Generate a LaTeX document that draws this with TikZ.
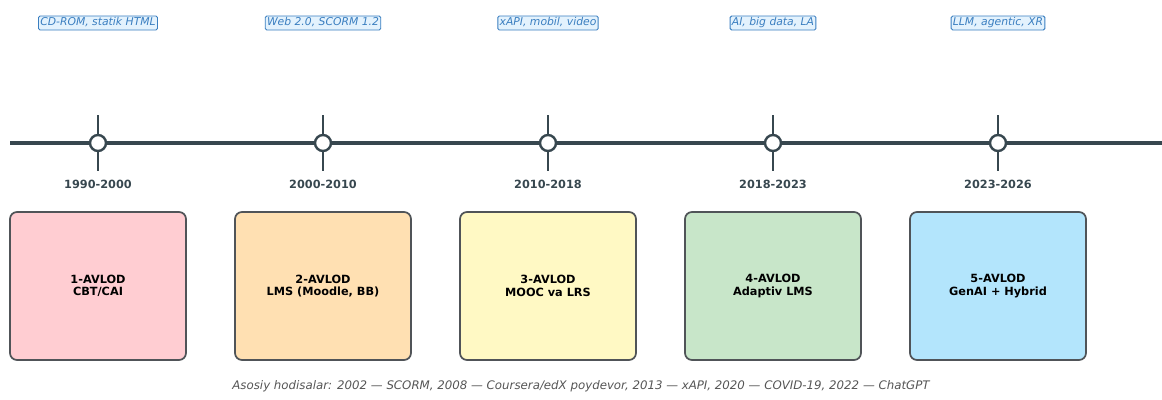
\documentclass[tikz,border=0pt]{standalone}
\usepackage{fontspec}
\setmainfont{DejaVu Sans}
\definecolor{linec}{HTML}{37474F}
\definecolor{tagblue}{HTML}{3A7EC0}
\definecolor{tagfill}{HTML}{E3F2FD}
\definecolor{c1}{HTML}{FFCDD2}
\definecolor{c2}{HTML}{FFE0B2}
\definecolor{c3}{HTML}{FFF9C4}
\definecolor{c4}{HTML}{C8E6C9}
\definecolor{c5}{HTML}{B3E5FC}
\definecolor{boxborder}{HTML}{505458}
\definecolor{captc}{HTML}{555555}
\begin{document}
\begin{tikzpicture}[x=1pt,y=-1pt,
  tl/.style={line width=3.2pt,draw=linec},
  tick/.style={line width=2.6pt,draw=linec},
  dot/.style={circle,draw=linec,line width=2.4pt,fill=white,minimum size=16pt,inner sep=0pt},
  yearlbl/.style={font=\fontsize{11.3}{13}\selectfont\bfseries,text=linec},
  tag/.style={draw=tagblue,fill=tagfill,line width=0.9pt,rounded corners=1.5pt,inner sep=1.8pt,text height=8pt,text depth=2.4pt,font=\fontsize{10.8}{12}\selectfont\itshape,text=tagblue},
  gen/.style={draw=boxborder,line width=1.7pt,rounded corners=7pt,minimum width=176pt,minimum height=148pt,align=center,font=\fontsize{11.3}{12.5}\selectfont\bfseries,text=black},
  capt/.style={font=\fontsize{11.8}{13}\selectfont\itshape,text=captc}]
\useasboundingbox (0,0) rectangle (1162,399);
\coordinate (L) at (10,143);
\coordinate (R) at (1162,143);
\draw[tl] (L) -- (R);
\foreach \i/\x/\yr/\tg/\col/\a/\b in {
  1/98/1990-2000/{CD-ROM, statik HTML}/c1/1-AVLOD/CBT\slash CAI,
  2/323/2000-2010/{Web 2.0, SCORM 1.2}/c2/2-AVLOD/{LMS (Moodle, BB)},
  3/548/2010-2018/{xAPI, mobil, video}/c3/3-AVLOD/{MOOC va LRS},
  4/773/2018-2023/{AI, big data, LA}/c4/4-AVLOD/{Adaptiv LMS},
  5/998/2023-2026/{LLM, agentic, XR}/c5/5-AVLOD/{GenAI + Hybrid}} {
  \coordinate (t\i a) at (\x,115);
  \coordinate (t\i b) at (\x,171);
  \draw[tick] (t\i a) -- (t\i b);
  \node[dot] (d\i) at (\x,143) {};
  \node[yearlbl] (y\i) at (\x,184) {\yr};
  \node[tag] (tag\i) at (\x,23) {\tg};
  \node[gen,fill=\col] (g\i) at (\x,286) {\a\\\b};
}
\node[capt] (cap) at (581,386) {Asosiy hodisalar: 2002 — SCORM, 2008 — Coursera/edX poydevor, 2013 — xAPI, 2020 — COVID-19, 2022 — ChatGPT};
\end{tikzpicture}
\end{document}
